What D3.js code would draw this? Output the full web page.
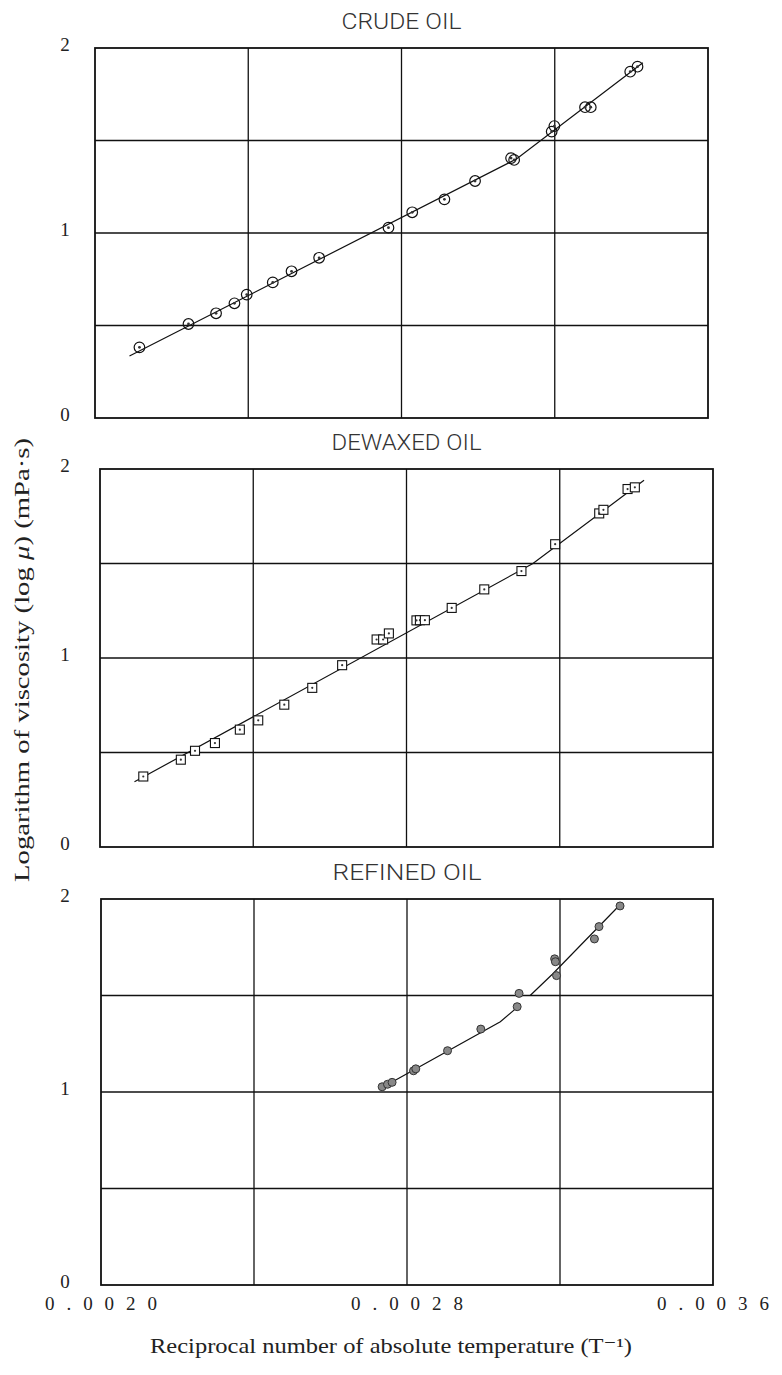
<!DOCTYPE html>
<html>
<head>
<meta charset="utf-8">
<script src="https://cdn.jsdelivr.net/npm/d3@7/dist/d3.min.js"></script>
<style>
  html, body { margin: 0; padding: 0; background: #fff; }
  svg { display: block; }
</style>
</head>
<body>
<svg id="chart" width="782" height="1375"></svg>
<script>
// Reciprocal absolute temperature (1/K) and log10 viscosity (mPa·s) per oil
const crudeX = [0.002116, 0.002244, 0.002316, 0.002364, 0.002396, 0.002464, 0.002513, 0.002585, 0.002766, 0.002828,
                0.002912, 0.002992, 0.003086, 0.003094, 0.003192, 0.003199, 0.003279, 0.003294, 0.003397, 0.003416];
const crudeY = [0.382, 0.508, 0.566, 0.620, 0.667, 0.733, 0.793, 0.866, 1.029, 1.112,
                1.182, 1.281, 1.405, 1.395, 1.548, 1.578, 1.680, 1.680, 1.872, 1.899];

const dewaxedX = [0.002113, 0.002211, 0.002248, 0.002300, 0.002365, 0.002413, 0.002481, 0.002554, 0.002632, 0.002722,
                  0.002739, 0.002754, 0.002826, 0.002835, 0.002848, 0.002918, 0.003003, 0.003100, 0.003188, 0.003303,
                  0.003314, 0.003377, 0.003396];
const dewaxedY = [0.373, 0.462, 0.509, 0.550, 0.621, 0.670, 0.753, 0.842, 0.962, 1.098,
                  1.098, 1.130, 1.199, 1.200, 1.200, 1.265, 1.363, 1.460, 1.602, 1.765,
                  1.784, 1.894, 1.903];

const refinedX = [0.002735, 0.002749, 0.002761, 0.002817, 0.002823, 0.002906, 0.002993, 0.003088, 0.003093, 0.003186,
                  0.003188, 0.003191, 0.003290, 0.003302, 0.003357];
const refinedY = [1.027, 1.040, 1.050, 1.110, 1.120, 1.214, 1.326, 1.442, 1.511, 1.690,
                  1.675, 1.603, 1.793, 1.857, 1.964];

// Fitted curves (break points of the two-slope fit); null marks a pen lift
const crudeFitX = [0.00209, 0.00310, 0.00343];
const crudeFitY = [0.335, 1.400, 1.920];
const dewaxedFitX = [0.00209, 0.00313, 0.00342];
const dewaxedFitY = [0.345, 1.500, 1.940];
const refinedFitX = [0.002727, 0.003044, 0.003092, null, 0.003122, 0.003180, 0.003357];
const refinedFitY = [1.014, 1.364, 1.445, null, 1.500, 1.610, 1.970];

const panelTitles = ["CRUDE OIL", "DEWAXED OIL", "REFINED OIL"];
const xDomain = [0.0020, 0.0036];
const yDomain = [0, 2];
const xGrid = [0.0024, 0.0028, 0.0032];
const yGrid = [0.5, 1.0, 1.5];
const yTickLabels = [0, 1, 2];
const xTickValues = [0.0020, 0.0028, 0.0036];
const xTickLabels = ["0.0020", "0.0028", "0.0036"];
const yTitle = "Logarithm of viscosity (log μ) (mPa·s)";
const xTitle = "Reciprocal number of absolute temperature (T⁻¹)";

const zip = (xs, ys) => xs.map((x, i) => ({x, y: ys[i]}));

const panels = [
  {title: panelTitles[0], pts: zip(crudeX, crudeY), fit: zip(crudeFitX, crudeFitY), marker: "circle",
   left: 95, right: 708, top: 48, bottom: 418, titleW: 120},
  {title: panelTitles[1], pts: zip(dewaxedX, dewaxedY), fit: zip(dewaxedFitX, dewaxedFitY), marker: "square",
   left: 100, right: 713, top: 469, bottom: 847, titleW: 150},
  {title: panelTitles[2], pts: zip(refinedX, refinedY), fit: zip(refinedFitX, refinedFitY), marker: "dot",
   left: 101, right: 713, top: 899, bottom: 1285, titleW: 149}
];

const svg = d3.select("#chart");
const serif = "'Liberation Serif', 'DejaVu Serif', serif";
const plotter = "Roboto, 'DejaVu Sans', sans-serif";

panels.forEach((p, idx) => {
  const x = d3.scaleLinear().domain(xDomain).range([p.left, p.right]);
  const y = d3.scaleLinear().domain(yDomain).range([p.bottom, p.top]);
  const g = svg.append("g");

  // grid lines
  g.selectAll("line.vg").data(xGrid).join("line")
    .attr("x1", d => x(d)).attr("x2", d => x(d))
    .attr("y1", p.top).attr("y2", p.bottom)
    .attr("stroke", "#111").attr("stroke-width", 1.3);
  g.selectAll("line.hg").data(yGrid).join("line")
    .attr("x1", p.left).attr("x2", p.right)
    .attr("y1", d => y(d)).attr("y2", d => y(d))
    .attr("stroke", "#111").attr("stroke-width", 1.3);

  // frame
  g.append("rect")
    .attr("x", p.left).attr("y", p.top)
    .attr("width", p.right - p.left).attr("height", p.bottom - p.top)
    .attr("fill", "none").attr("stroke", "#111").attr("stroke-width", 1.8);

  // panel title
  g.append("text")
    .attr("x", (p.left + p.right) / 2).attr("y", p.top - 19)
    .attr("text-anchor", "middle")
    .attr("font-family", plotter).attr("font-weight", 300).attr("font-size", 22)
    .attr("textLength", p.titleW).attr("lengthAdjust", "spacingAndGlyphs")
    .attr("fill", "#333")
    .text(p.title);

  // y tick labels
  g.selectAll("text.yt").data(yTickLabels).join("text")
    .attr("x", 65).attr("y", d => y(d) + 3)
    .attr("text-anchor", "middle")
    .attr("font-family", serif).attr("font-size", 19)
    .attr("fill", "#222")
    .text(d => d);

  // fitted curve
  const line = d3.line()
    .defined(d => d.x !== null)
    .x(d => x(d.x)).y(d => y(d.y));
  g.append("path").datum(p.fit)
    .attr("d", line)
    .attr("fill", "none").attr("stroke", "#111").attr("stroke-width", 1.2);

  // observations
  const m = g.append("g");
  if (p.marker === "circle") {
    m.selectAll("circle.o").data(p.pts).join("circle")
      .attr("cx", d => x(d.x)).attr("cy", d => y(d.y)).attr("r", 5.3)
      .attr("fill", "none").attr("stroke", "#111").attr("stroke-width", 1.2);
    m.selectAll("circle.c").data(p.pts).join("circle")
      .attr("cx", d => x(d.x)).attr("cy", d => y(d.y)).attr("r", 1.4)
      .attr("fill", "#333");
  } else if (p.marker === "square") {
    m.selectAll("rect.o").data(p.pts).join("rect")
      .attr("x", d => x(d.x) - 4.5).attr("y", d => y(d.y) - 4.5)
      .attr("width", 9).attr("height", 9)
      .attr("fill", "#fff").attr("stroke", "#111").attr("stroke-width", 1.1);
    m.selectAll("circle.c").data(p.pts).join("circle")
      .attr("cx", d => x(d.x)).attr("cy", d => y(d.y)).attr("r", 1.1)
      .attr("fill", "#333");
  } else {
    m.selectAll("circle.o").data(p.pts).join("circle")
      .attr("cx", d => x(d.x)).attr("cy", d => y(d.y)).attr("r", 4)
      .attr("fill", "#888").attr("stroke", "#333").attr("stroke-width", 1);
  }

  // x tick labels below the last panel
  if (idx === panels.length - 1) {
    g.selectAll("text.xt").data(xTickValues).join("text")
      .attr("x", d => x(d)).attr("y", p.bottom + 25)
      .attr("text-anchor", "middle")
      .attr("font-family", serif).attr("font-size", 19)
      .attr("textLength", 112).attr("lengthAdjust", "spacing")
      .attr("fill", "#222")
      .text((d, i) => xTickLabels[i]);
    svg.append("text")
      .attr("x", 391).attr("y", p.bottom + 68)
      .attr("text-anchor", "middle")
      .attr("font-family", serif).attr("font-size", 21)
      .attr("textLength", 482).attr("lengthAdjust", "spacingAndGlyphs")
      .attr("fill", "#222")
      .text(xTitle);
  }
});

// shared y axis title
const yt = svg.append("text")
  .attr("transform", "translate(29,660) rotate(-90)")
  .attr("text-anchor", "middle")
  .attr("font-family", serif).attr("font-size", 20)
  .attr("textLength", 444).attr("lengthAdjust", "spacingAndGlyphs")
  .attr("fill", "#222");
const parts = yTitle.split("μ");
yt.append("tspan").text(parts[0]);
yt.append("tspan").attr("font-style", "italic").text("μ");
yt.append("tspan").text(parts[1]);
</script>
</body>
</html>
